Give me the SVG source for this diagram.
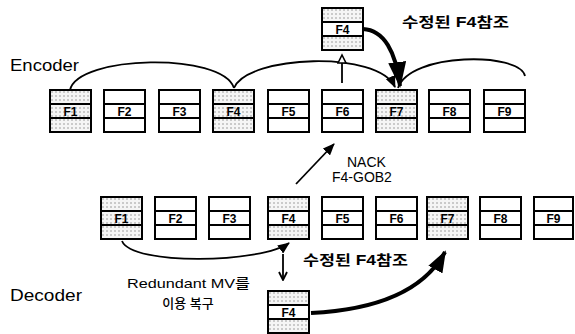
<svg xmlns="http://www.w3.org/2000/svg" width="575" height="334" viewBox="0 0 575 334">
<defs>
<pattern id="dots" width="4" height="4" patternUnits="userSpaceOnUse">
<rect width="4" height="4" fill="#f5f5f5"/>
<circle cx="2" cy="2" r="0.75" fill="#8a8a8a"/>
</pattern>
<marker id="ah" markerUnits="userSpaceOnUse" markerWidth="12" markerHeight="10" refX="11" refY="5" orient="auto">
<path d="M0,0 L12,5 L0,10 z" fill="#000"/>
</marker>
<marker id="ahs" markerUnits="userSpaceOnUse" markerWidth="10" markerHeight="10" refX="9" refY="5" orient="auto">
<path d="M1,1 L9,5 L1,9" fill="none" stroke="#000" stroke-width="1.8"/>
</marker>
<marker id="ahbig" markerUnits="userSpaceOnUse" markerWidth="26" markerHeight="18" refX="24" refY="9" orient="auto">
<path d="M0,0 L26,9 L0,18 z" fill="#000"/>
</marker>
<marker id="ahbig2" markerUnits="userSpaceOnUse" markerWidth="22" markerHeight="16" refX="20" refY="8" orient="auto">
<path d="M0,0 L22,8 L0,16 z" fill="#000"/>
</marker>
<marker id="aho" markerUnits="userSpaceOnUse" markerWidth="12" markerHeight="10" refX="6" refY="5" orient="auto">
<path d="M1,1 L9,5 L1,9 z" fill="#fff" stroke="#000" stroke-width="1.6"/>
</marker>
</defs>
<style>
.r{fill:#fff;stroke:#000;stroke-width:2}
.s{fill:url(#dots)}
.lb{font-family:"Liberation Sans",Arial,sans-serif;font-size:12px;font-weight:bold;text-anchor:middle;fill:#000}
.t{font-family:"Liberation Sans",Arial,sans-serif;fill:#000}
.k{font-family:"Liberation Sans","Noto Sans CJK KR",sans-serif;font-weight:bold;fill:#000}
.m{font-family:"Liberation Sans","Noto Sans CJK KR",sans-serif;font-weight:500;fill:#000}
.c{fill:none;stroke:#000;stroke-width:1.8}
.th{fill:none;stroke:#000;stroke-width:4}
</style>

<text class="t" x="10" y="71" font-size="17" textLength="69" lengthAdjust="spacingAndGlyphs">Encoder</text>
<text class="t" x="10" y="301" font-size="17" textLength="72" lengthAdjust="spacingAndGlyphs">Decoder</text>

<!-- Encoder row -->
<g id="enc-f1" transform="translate(50,90)"><rect class="r s" width="41" height="14"/><rect class="r s" y="14" width="41" height="14"/><rect class="r s" y="28" width="41" height="14"/><text class="lb" x="20.5" y="25.5">F1</text></g>
<g id="enc-f2" transform="translate(104,90)"><rect class="r" width="41" height="14"/><rect class="r" y="14" width="41" height="14"/><rect class="r" y="28" width="41" height="14"/><text class="lb" x="20.5" y="25.5">F2</text></g>
<g id="enc-f3" transform="translate(159,90)"><rect class="r" width="41" height="14"/><rect class="r" y="14" width="41" height="14"/><rect class="r" y="28" width="41" height="14"/><text class="lb" x="20.5" y="25.5">F3</text></g>
<g id="enc-f4" transform="translate(213,90)"><rect class="r s" width="41" height="14"/><rect class="r s" y="14" width="41" height="14"/><rect class="r s" y="28" width="41" height="14"/><text class="lb" x="20.5" y="25.5">F4</text></g>
<g id="enc-f5" transform="translate(268,90)"><rect class="r" width="41" height="14"/><rect class="r" y="14" width="41" height="14"/><rect class="r" y="28" width="41" height="14"/><text class="lb" x="20.5" y="25.5">F5</text></g>
<g id="enc-f6" transform="translate(322,90)"><rect class="r" width="41" height="14"/><rect class="r" y="14" width="41" height="14"/><rect class="r" y="28" width="41" height="14"/><text class="lb" x="20.5" y="25.5">F6</text></g>
<g id="enc-f7" transform="translate(376,90)"><rect class="r s" width="41" height="14"/><rect class="r s" y="14" width="41" height="14"/><rect class="r s" y="28" width="41" height="14"/><text class="lb" x="20.5" y="25.5">F7</text></g>
<g id="enc-f8" transform="translate(429,90)"><rect class="r" width="41" height="14"/><rect class="r" y="14" width="41" height="14"/><rect class="r" y="28" width="41" height="14"/><text class="lb" x="20.5" y="25.5">F8</text></g>
<g id="enc-f9" transform="translate(484,90)"><rect class="r" width="41" height="14"/><rect class="r" y="14" width="41" height="14"/><rect class="r" y="28" width="41" height="14"/><text class="lb" x="20.5" y="25.5">F9</text></g>

<!-- corrected F4 (encoder) -->
<g id="enc-f4-corrected" transform="translate(322,8)"><rect class="r s" width="41" height="14"/><rect class="r" y="14" width="41" height="14"/><rect class="r s" y="28" width="41" height="14"/><text class="lb" x="20.5" y="25.5">F4</text></g>

<!-- Decoder row -->
<g id="dec-f1" transform="translate(101,197)"><rect class="r s" width="41" height="14"/><rect class="r s" y="14" width="41" height="14"/><rect class="r s" y="28" width="41" height="14"/><text class="lb" x="20.5" y="25.5">F1</text></g>
<g id="dec-f2" transform="translate(155,197)"><rect class="r" width="41" height="14"/><rect class="r" y="14" width="41" height="14"/><rect class="r" y="28" width="41" height="14"/><text class="lb" x="20.5" y="25.5">F2</text></g>
<g id="dec-f3" transform="translate(209,197)"><rect class="r" width="41" height="14"/><rect class="r" y="14" width="41" height="14"/><rect class="r" y="28" width="41" height="14"/><text class="lb" x="20.5" y="25.5">F3</text></g>
<g id="dec-f4" transform="translate(268,197)"><rect class="r s" width="41" height="14"/><rect class="r" y="14" width="41" height="14"/><rect class="r s" y="28" width="41" height="14"/><text class="lb" x="20.5" y="25.5">F4</text></g>
<g id="dec-f5" transform="translate(322,197)"><rect class="r" width="41" height="14"/><rect class="r" y="14" width="41" height="14"/><rect class="r" y="28" width="41" height="14"/><text class="lb" x="20.5" y="25.5">F5</text></g>
<g id="dec-f6" transform="translate(376,197)"><rect class="r" width="41" height="14"/><rect class="r" y="14" width="41" height="14"/><rect class="r" y="28" width="41" height="14"/><text class="lb" x="20.5" y="25.5">F6</text></g>
<g id="dec-f7" transform="translate(427,197)"><rect class="r s" width="41" height="14"/><rect class="r s" y="14" width="41" height="14"/><rect class="r s" y="28" width="41" height="14"/><text class="lb" x="20.5" y="25.5">F7</text></g>
<g id="dec-f8" transform="translate(480,197)"><rect class="r" width="41" height="14"/><rect class="r" y="14" width="41" height="14"/><rect class="r" y="28" width="41" height="14"/><text class="lb" x="20.5" y="25.5">F8</text></g>
<g id="dec-f9" transform="translate(534,197)"><rect class="r" width="39" height="14"/><rect class="r" y="14" width="39" height="14"/><rect class="r" y="28" width="39" height="14"/><text class="lb" x="19.5" y="25.5">F9</text></g>

<!-- recovered F4 (decoder) -->
<g id="dec-f4-recovered" transform="translate(268,291)"><rect class="r s" width="41" height="14"/><rect class="r" y="14" width="41" height="14"/><rect class="r s" y="28" width="41" height="14"/><text class="lb" x="20.5" y="25.5">F4</text></g>

<!-- connectors -->
<g id="connectors">
<path class="c" d="M70,90 C78,55 222,52 234,88"/>
<path class="c" d="M234,88 C248,55 378,50 395,87" marker-end="url(#ah)"/>
<path class="c" d="M398,88 C410,52 520,52 525,76"/>
<path class="c" d="M342,83 L342,58" marker-end="url(#aho)"/>
<path class="th" d="M363,29 C384,30 396,52 400,86" marker-end="url(#ahbig)"/>
<path class="c" d="M296,184 L334,144" marker-end="url(#ah)"/>
<path class="c" d="M122,241 C132,266 262,263 289,243" marker-end="url(#ah)"/>
<path class="c" d="M283,254 L283,280" marker-end="url(#ahs)"/>
<path class="th" d="M311,313 C372,310 422,294 445,252" marker-end="url(#ahbig2)"/>
</g>

<text class="k" x="402" y="27" font-size="14" textLength="107" lengthAdjust="spacingAndGlyphs">수정된 F4참조</text>
<text class="k" x="303" y="265" font-size="14" textLength="105" lengthAdjust="spacingAndGlyphs">수정된 F4참조</text>
<text class="m" x="347" y="167" font-size="14">NACK</text>
<text class="m" x="332" y="182" font-size="14">F4-GOB2</text>
<text class="m" x="127" y="288" font-size="13" textLength="123" lengthAdjust="spacingAndGlyphs">Redundant MV를</text>
<text class="m" x="188" y="308" font-size="13" text-anchor="middle">이용 복구</text>
</svg>
